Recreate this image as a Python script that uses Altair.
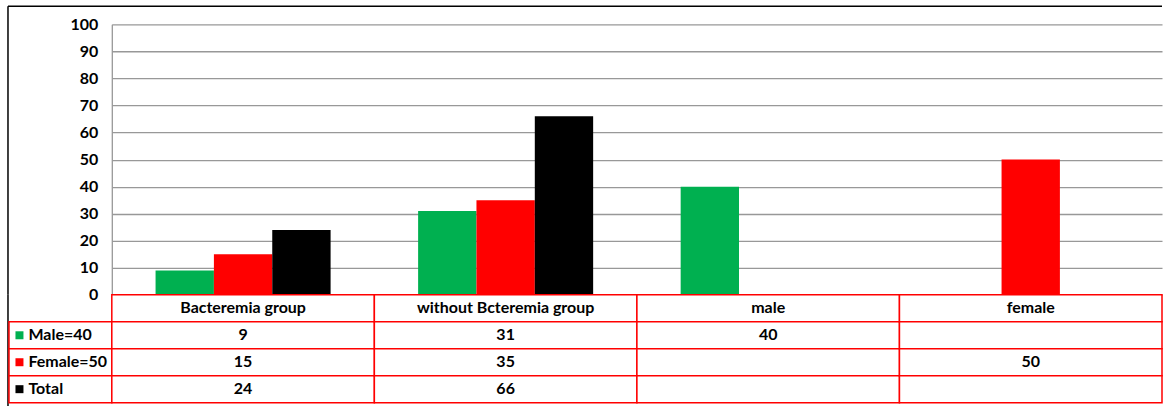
import altair as alt
import pandas as pd

# ---- data ----
categories = ["Bacteremia group", "without Bcteremia group", "male", "female"]
series = ["Male=40", "Female=50", "Total"]
male_vals = [9, 31, 40, None]
female_vals = [15, 35, None, 50]
total_vals = [24, 66, None, None]
y_ticks = [0, 10, 20, 30, 40, 50, 60, 70, 80, 90, 100]
colors = ["#00B050", "#FF0000", "#000000"]

FONT = "Lato"
FS = 16

header_key = "hdr"
rows = [header_key] + series

values_by_series = dict(zip(series, [male_vals, female_vals, total_vals]))
recs = []
for s in series:
    for c, v in zip(categories, values_by_series[s]):
        if v is not None:
            recs.append({"category": c, "series": s, "value": v, "label": str(int(v))})
bar_df = pd.DataFrame(recs)

cells_df = pd.DataFrame([{"category": c, "row": r} for c in categories for r in rows])
header_df = pd.DataFrame({"category": categories, "row": [header_key] * len(categories), "label": categories})
table_df = bar_df.rename(columns={"series": "row"})
legend_df = pd.DataFrame({"row": series})

PLOT_W = 1052
PLOT_H = 271
LABEL_W = 103
TABLE_H = 108

x_cat = alt.X("category:N", sort=categories,
              scale=alt.Scale(domain=categories, paddingInner=0, paddingOuter=0), axis=None)
y_row = alt.Y("row:N", sort=rows,
              scale=alt.Scale(domain=rows, paddingInner=0, paddingOuter=0), axis=None)

# ---- bar chart ----
bars = alt.Chart(bar_df).mark_bar().encode(
    x=x_cat,
    xOffset=alt.XOffset("series:N", sort=series,
                        scale=alt.Scale(domain=series, paddingInner=0, paddingOuter=0.75)),
    y=alt.Y("value:Q", scale=alt.Scale(domain=[0, 100], nice=False),
            axis=alt.Axis(values=y_ticks, title=None, grid=True, gridColor="#989898",
                          gridWidth=1.3, domain=True, domainColor="#989898", domainWidth=1.3,
                          ticks=False, labelPadding=14, labelFont=FONT, labelFontWeight="bold",
                          labelFontSize=FS, labelColor="#000000")),
    color=alt.Color("series:N", scale=alt.Scale(domain=series, range=colors), legend=None),
).properties(width=PLOT_W, height=PLOT_H)

# ---- left spacer panel holding the outer frame (top part) ----
frame_src = pd.DataFrame({"k": [0]})
frame_left = alt.Chart(frame_src).mark_rule(color="black", strokeWidth=1.5).encode(
    x=alt.value(-1), y=alt.value(-18), y2=alt.value(PLOT_H))
frame_top = alt.Chart(frame_src).mark_rule(color="black", strokeWidth=1.5).encode(
    x=alt.value(-1), x2=alt.value(LABEL_W + PLOT_W), y=alt.value(-18))
spacer = alt.layer(frame_left, frame_top).properties(width=LABEL_W, height=PLOT_H)

# ---- data table ----
t_cells = alt.Chart(cells_df).mark_rect(fill="white", stroke="#FF0000", strokeWidth=1.5).encode(
    x=x_cat, y=y_row)
t_head = alt.Chart(header_df).mark_text(font=FONT, fontWeight="bold", fontSize=FS,
                                        color="#000000", baseline="middle").encode(
    x=x_cat, y=y_row, text="label:N")
t_vals = alt.Chart(table_df).mark_text(font=FONT, fontWeight="bold", fontSize=FS,
                                       color="#000000", baseline="middle").encode(
    x=x_cat, y=y_row, text="label:N")
table = alt.layer(t_cells, t_head, t_vals).properties(width=PLOT_W, height=TABLE_H)

# ---- legend column of the table ----
frame_left2 = alt.Chart(frame_src).mark_rule(color="black", strokeWidth=1.5).encode(
    x=alt.value(-1), y=alt.value(0), y2=alt.value(TABLE_H + 4))
l_cells = alt.Chart(legend_df).mark_rect(fill="white", stroke="#FF0000", strokeWidth=1.5).encode(
    y=y_row)
l_keys = alt.Chart(legend_df).mark_point(shape="square", filled=True, size=64, opacity=1,
                                         xOffset=-41).encode(
    y=y_row,
    color=alt.Color("row:N", scale=alt.Scale(domain=series, range=colors), legend=None))
l_text = alt.Chart(legend_df).mark_text(font=FONT, fontWeight="bold", fontSize=FS, color="#000000",
                                        align="left", baseline="middle", dx=-32).encode(
    y=y_row, text="row:N")
legend_col = alt.layer(frame_left2, l_cells, l_keys, l_text).properties(width=LABEL_W, height=TABLE_H)

chart = alt.concat(spacer, bars, legend_col, table, columns=2, spacing=0,
                   bounds="flush", align="each").properties(
    padding={"left": 7, "top": 5, "right": 0, "bottom": 0},
    background="white",
).configure_view(stroke=None)

chart.save("out.html", embed_options={"renderer": "svg", "actions": False})
